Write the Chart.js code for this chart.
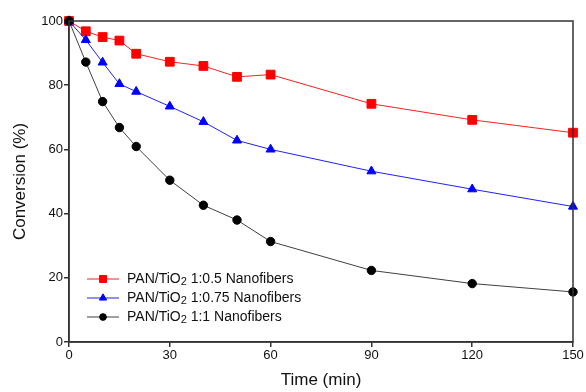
<!DOCTYPE html>
<html lang="en">

<head>
  <meta charset="UTF-8">
  <title>Conversion vs Time</title>
  <style>
    body { margin: 0; background: #fff; }
    #wrap { width: 586px; height: 392px; }
  </style>
</head>

<body>
  <div id="wrap"><canvas id="convChart"></canvas></div>

  <script src="https://cdn.jsdelivr.net/npm/chart.js@4/dist/chart.umd.min.js"></script>

  <script>
    // data
    const timeMin = [0, 5, 10, 15, 20, 30, 40, 50, 60, 90, 120, 150];
    const conv05 = [100, 96.8, 95.0, 93.9, 89.8, 87.3, 86.0, 82.6, 83.3, 74.2, 69.2, 65.2];
    const conv075 = [100, 94.1, 87.1, 80.4, 78.0, 73.4, 68.6, 62.8, 60.0, 53.2, 47.6, 42.2];
    const conv1 = [100, 87.2, 74.9, 66.8, 60.9, 50.4, 42.6, 38.0, 31.3, 22.3, 18.2, 15.6];
    const seriesNames = ["PAN/TiO₂ 1:0.5 Nanofibers", "PAN/TiO₂ 1:0.75 Nanofibers", "PAN/TiO₂ 1:1 Nanofibers"];
    const xTicks = [0, 30, 60, 90, 120, 150];
    const yTicks = [0, 20, 40, 60, 80, 100];

    const toXY = arr => arr.map((v, i) => ({ x: timeMin[i], y: v }));
    const font = "'Liberation Sans', Arial, sans-serif";

    const colors = ["#ff0000", "#0000ff", "#000000"];
    const lineColors = ["#ff2020", "#2020ff", "#404040"];
    const styles = ["rect", "triangle", "circle"];
    const radii = [6.2, 5.2, 4.2];
    const seriesData = [conv05, conv075, conv1];

    // box round the plot + legend inside the plot (line with marker, subscript 2)
    const boxAndLegend = {
      id: "boxAndLegend",
      afterDatasetsDraw(chart) {
        const { ctx, chartArea: a } = chart;
        ctx.save();
        ctx.strokeStyle = "#333";
        ctx.lineWidth = 1.5;
        ctx.strokeRect(a.left, a.top, a.right - a.left, a.bottom - a.top);

        const rows = [279, 298, 317];
        chart.data.datasets.forEach((ds, i) => {
          const y = rows[i];
          ctx.strokeStyle = ds.borderColor;
          ctx.lineWidth = 1;
          ctx.beginPath();
          ctx.moveTo(87, y);
          ctx.lineTo(119, y);
          ctx.stroke();

          ctx.fillStyle = colors[i];
          ctx.strokeStyle = colors[i];
          Chart.helpers.drawPoint(ctx, {
            pointStyle: ds.pointStyle,
            radius: ds.pointRadius * 0.8,
            borderWidth: 1
          }, 103, y);

          // text with subscript
          const parts = ds.label.split("₂");
          ctx.fillStyle = "#111";
          ctx.textBaseline = "middle";
          ctx.font = "14px " + font;
          let x = 127;
          ctx.fillText(parts[0], x, y);
          x += ctx.measureText(parts[0]).width;
          ctx.font = "11px " + font;
          ctx.fillText("2", x, y + 3);
          x += ctx.measureText("2").width;
          ctx.font = "14px " + font;
          ctx.fillText(parts[1], x, y);
        });
        ctx.restore();
      }
    };

    const datasets = seriesData.map((d, i) => ({
      label: seriesNames[i],
      data: toXY(d),
      order: 2 - i, // black series on top, as in the figure
      borderColor: lineColors[i],
      borderWidth: 1,
      pointStyle: styles[i],
      pointRadius: radii[i],
      pointHoverRadius: radii[i],
      pointBackgroundColor: colors[i],
      pointBorderColor: colors[i],
      pointBorderWidth: 1,
      tension: 0,
      clip: false
    }));

    const ctx = document.getElementById("convChart").getContext("2d");
    new Chart(ctx, {
      type: "line",
      data: { datasets: datasets },
      options: {
        responsive: true,
        maintainAspectRatio: false,
        animation: false,
        layout: { padding: { left: 0, right: 13, top: 21, bottom: 0 } },
        plugins: {
          legend: { display: false },
          tooltip: { enabled: false }
        },
        scales: {
          x: {
            type: "linear",
            min: 0,
            max: 150,
            afterFit: s => { s.height = 50; },
            afterBuildTicks: s => { s.ticks = xTicks.map(v => ({ value: v })); },
            grid: { drawOnChartArea: false, tickLength: 5, color: "#333", lineWidth: 1.5 },
            border: { color: "#333", width: 1.5 },
            ticks: { color: "#111", font: { family: font, size: 13 }, padding: 1, maxRotation: 0 },
            title: {
              display: true,
              text: "Time (min)",
              color: "#111",
              font: { family: font, size: 17 },
              padding: { top: 0, bottom: 1 }
            }
          },
          y: {
            min: 0,
            max: 100,
            afterFit: s => { s.width = 69; },
            afterBuildTicks: s => { s.ticks = yTicks.map(v => ({ value: v })); },
            grid: { drawOnChartArea: false, tickLength: 5, color: "#333", lineWidth: 1.5 },
            border: { color: "#333", width: 1.5 },
            ticks: { color: "#111", font: { family: font, size: 13 }, padding: 1 },
            title: {
              display: true,
              text: "Conversion (%)",
              color: "#111",
              font: { family: font, size: 17 },
              padding: { top: 10, bottom: 0 }
            }
          }
        }
      },
      plugins: [boxAndLegend]
    });
  </script>

</body>

</html>
